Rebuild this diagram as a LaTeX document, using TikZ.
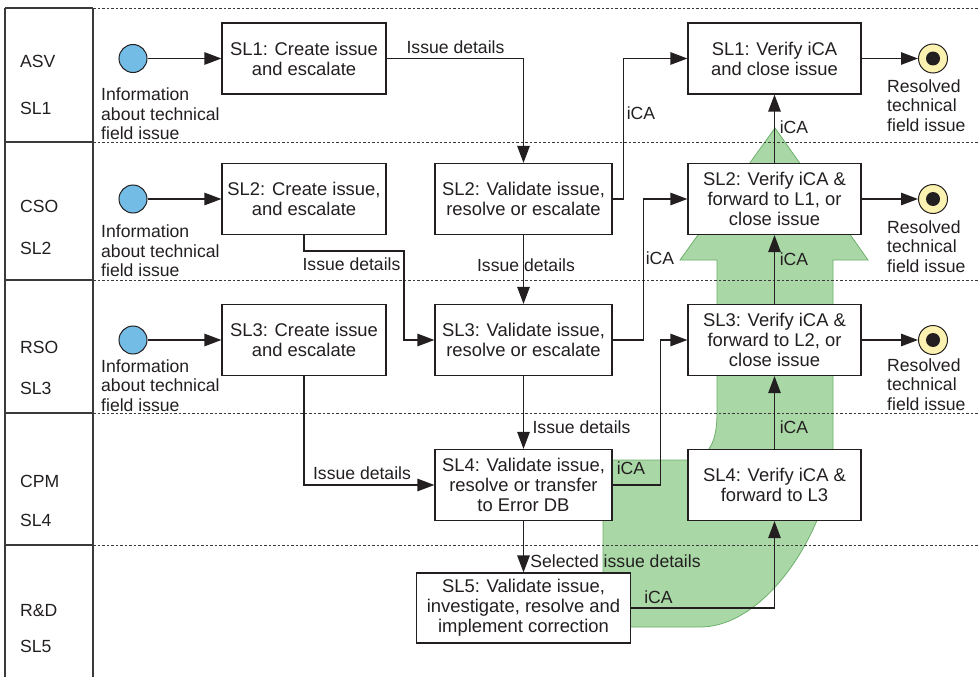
\documentclass[tikz,border=0pt]{standalone}
\usepackage{fontspec}
\setmainfont{Liberation Sans}
\usetikzlibrary{arrows.meta}
\definecolor{ink}{HTML}{231F20}
\definecolor{laneline}{HTML}{3A3A3A}
\definecolor{startblue}{HTML}{72BCE6}
\definecolor{endyellow}{HTML}{FBF1B0}
\definecolor{flowgreen}{HTML}{A9D8A6}
\definecolor{flowedge}{HTML}{6DB06A}

\begin{document}
\begin{tikzpicture}[x=1pt,y=-1pt,
  every node/.style={text=ink, font=\fontsize{17.6}{19.5}\selectfont},
  conn/.style={draw=ink, line width=1.2pt, -{Triangle[length=17pt,width=12.5pt]}},
  task/.style={draw=ink, line width=1.2pt, fill=white, align=center, inner sep=0pt,
    minimum height=71pt, font=\fontsize{18.4}{20}\selectfont},
  createbox/.style={task, minimum width=164pt},
  validbox/.style={task, minimum width=177pt},
  verifybox/.style={task, minimum width=173pt},
  startev/.style={circle, draw=ink, line width=1pt, fill=startblue, minimum size=28pt, inner sep=0pt},
  endev/.style={circle, draw=ink, line width=1pt, fill=endyellow, minimum size=29pt, inner sep=0pt},
  lbl/.style={inner sep=0pt, anchor=base},
  lanelbl/.style={inner sep=0pt, anchor=base west},
  note/.style={inner sep=0pt, anchor=north west, align=left},
  lanedash/.style={draw=laneline, line width=0.9pt, dash pattern=on 2.5pt off 2pt},
  lanesolid/.style={draw=laneline, line width=1.2pt}
]
\useasboundingbox (0,0) rectangle (978,677);

% broad green flow arrow behind the feedback path
\filldraw[fill=flowgreen, draw=flowedge, line width=0.8pt]
  (603,627) -- (603,460) -- (687,460) .. controls (710,459) and (717,440) .. (717,413)
  -- (717,260) -- (680,260) -- (775,128) -- (868,260) -- (833,260) -- (833,450)
  .. controls (833,520) and (770,627) .. (700,627) -- cycle;

% swimlane separators
\foreach \yy in {8,142,280,413,545} {
  \draw[lanedash] (93,\yy) -- (978,\yy);
  \draw[lanesolid] (5,\yy) -- (93,\yy);
}
\draw[lanesolid] (5,677) -- (5,8);
\draw[lanesolid] (93,677) -- (93,8);

% lane headers
\node[lanelbl] (h1a) at (20,68) {ASV};
\node[lanelbl] (h1b) at (20,114) {SL1};
\node[lanelbl] (h2a) at (20,212) {CSO};
\node[lanelbl] (h2b) at (20,254) {SL2};
\node[lanelbl] (h3a) at (20,353) {RSO};
\node[lanelbl] (h3b) at (20,394) {SL3};
\node[lanelbl] (h4a) at (20,487) {CPM};
\node[lanelbl] (h4b) at (20,526) {SL4};
\node[lanelbl] (h5a) at (20,616) {R\&D};
\node[lanelbl] (h5b) at (20,652) {SL5};

% start events
\node[startev] (s1) at (133,58.5) {};
\node[startev] (s2) at (133,199) {};
\node[startev] (s3) at (133,340) {};
\node[note] (i1) at (101,88) {Information\\about technical\\field issue};
\node[note] (i2) at (101,225) {Information\\about technical\\field issue};
\node[note] (i3) at (101,359.5) {Information\\about technical\\field issue};

% creation tasks
\node[createbox] (c1) at (304,58.5) {SL1: Create issue\\and escalate};
\node[createbox] (c2) at (304,199) {SL2: Create issue,\\and escalate};
\node[createbox] (c3) at (304,340) {SL3: Create issue\\and escalate};

% validation tasks
\node[validbox] (v2) at (523.5,199) {SL2: Validate issue,\\resolve or escalate};
\node[validbox] (v3) at (523.5,340) {SL3: Validate issue,\\resolve or escalate};
\node[validbox] (v4) at (523.5,485) {SL4: Validate issue,\\resolve or transfer\\to Error DB};
\node[task, minimum width=214pt, minimum height=70pt] (v5) at (523.5,608)
  {SL5: Validate issue,\\investigate, resolve and\\implement correction};

% verification tasks
\node[verifybox] (f1) at (774.5,58.5) {SL1: Verify iCA\\and close issue};
\node[verifybox] (f2) at (774.5,199) {SL2: Verify iCA \&\\forward to L1, or\\close issue};
\node[verifybox] (f3) at (774.5,340) {SL3: Verify iCA \&\\forward to L2, or\\close issue};
\node[verifybox] (f4) at (774.5,485) {SL4: Verify iCA \&\\forward to L3};

% end events
\node[endev] (e1) at (933,58.5) {};
\node[endev] (e2) at (933,199) {};
\node[endev] (e3) at (933,340) {};
\foreach \ev in {e1,e2,e3} \fill[ink] (\ev.center) circle[radius=7pt];
\node[note] (r1) at (887,79.5) {Resolved\\technical\\field issue};
\node[note] (r2) at (887,220.5) {Resolved\\technical\\field issue};
\node[note] (r3) at (887,358.5) {Resolved\\technical\\field issue};

% bend points
\coordinate (k3) at (404,251);

% escalation flow
\draw[conn] (s1) -- (c1);
\draw[conn] (s2) -- (c2);
\draw[conn] (s3) -- (c3);
\draw[conn] (c1.east) -| (v2.north);
\draw[conn] (c2.south) |- (k3) |- (v3.west);
\draw[conn] (c3.south) |- (v4.west);
\draw[conn] (v2.south) -- (v3.north);
\draw[conn] (v3.south) -- (v4.north);
\draw[conn] (v4.south) -- (v5.north);

% corrective action flow
\draw[conn] (v2.east) -- ++(11,0) |- (f1.west);
\draw[conn] (v3.east) -- ++(31,0) |- (f2.west);
\draw[conn] (v4.east) -- ++(48,0) |- (f3.west);
\draw[conn] (v5.east) -| (f4.south);
\draw[conn] (f4.north) -- (f3.south);
\draw[conn] (f3.north) -- (f2.south);
\draw[conn] (f2.north) -- (f1.south);
\draw[conn] (f1.east) -- (e1.west);
\draw[conn] (f2.east) -- (e2.west);
\draw[conn] (f3.east) -- (e3.west);

% connector labels
\node[lbl] (l1) at (455.5,54) {Issue details};
\node[lbl] (l2) at (641,119.3) {iCA};
\node[lbl] (l3) at (351.5,270.3) {Issue details};
\node[lbl] (l4) at (526,271.3) {Issue details};
\node[lbl] (l5) at (660,264.3) {iCA};
\node[lbl] (l6) at (362,479.3) {Issue details};
\node[lbl] (l7) at (581.5,433.3) {Issue details};
\node[lbl] (l8) at (631,474.3) {iCA};
\node[lbl] (l9) at (615.5,567.3) {Selected issue details};
\node[lbl] (l10) at (658.5,603.3) {iCA};
\node[lbl] (l11) at (794,433.3) {iCA};
\node[lbl] (l12) at (794,265.3) {iCA};
\node[lbl] (l13) at (794,133.3) {iCA};
\end{tikzpicture}
\end{document}
